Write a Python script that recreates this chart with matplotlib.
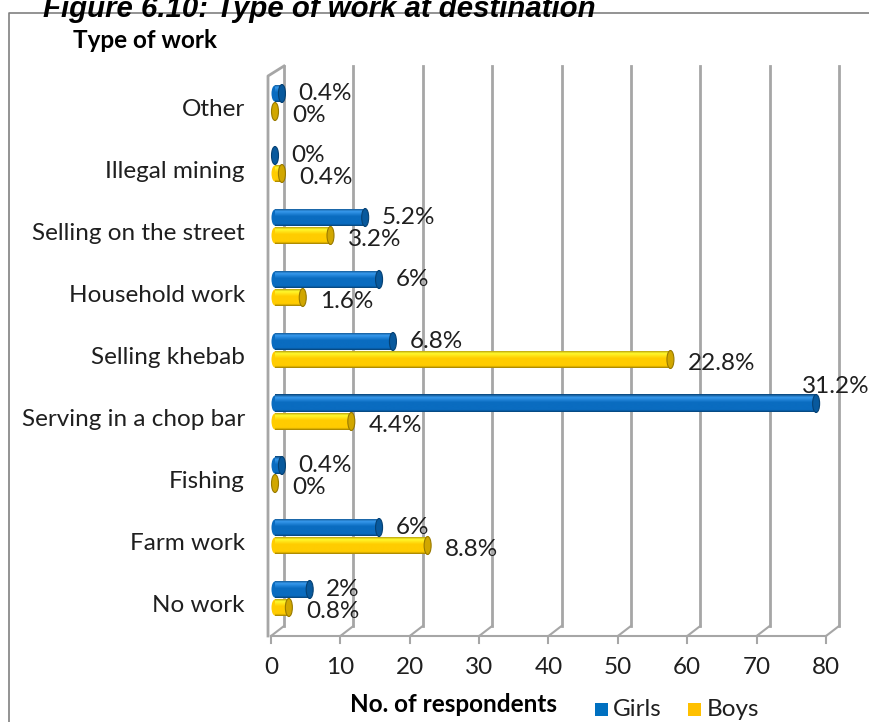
import matplotlib.pyplot as plt
import numpy as np
from matplotlib.patches import Ellipse, Rectangle
from matplotlib.colors import LinearSegmentedColormap, to_rgb

# respondents per type of work (250 children in total)
categories = ['Other', 'Illegal mining', 'Selling on the street', 'Household work',
              'Selling khebab', 'Serving in a chop bar', 'Fishing', 'Farm work', 'No work']
girls = [1, 0, 13, 15, 17, 78, 1, 15, 5]
boys = [0, 1, 8, 4, 57, 11, 0, 22, 2]
total = 250
xticks = [0, 10, 20, 30, 40, 50, 60, 70, 80]

plt.rcParams['font.family'] = ['Lato', 'DejaVu Sans']

W, H = 869, 722
fig = plt.figure(figsize=(W / 100, H / 100), dpi=100)
ax = fig.add_axes([0, 0, 1, 1])
ax.axis('off')

# pixel <-> data helpers (x: respondents, y: category index)
sx = (826 - 271) / 80.0
sy = 62.0
def px(p):
    return (p - 271) / sx
def py(p):
    return (p - 102.5) / sy
def dx(p):
    return p / sx
def dy(p):
    return p / sy

fs = 17.5
txt_c = '#1f1f1f'
grid_c = '#a6a6a6'
depth_x = dx(13)
floor_front, floor_back = py(636), py(626)
wall_top = py(66)

# back wall gridlines and floor
for v in xticks:
    ax.plot([v + depth_x, v + depth_x], [floor_back, wall_top], color=grid_c, lw=2, zorder=1)
    ax.plot([v, v + depth_x], [floor_front, floor_back], color=grid_c, lw=1.5, zorder=1)
    ax.plot([v, v], [floor_front, py(643)], color=grid_c, lw=1.5, zorder=1)
    ax.text(v, py(668), str(v), ha='center', va='center', fontsize=fs, color=txt_c)
ax.plot([0, 80], [floor_front, floor_front], color=grid_c, lw=1.5, zorder=1)
# left wall
ax.plot([px(268), px(268), depth_x], [floor_front, py(76), wall_top], color=grid_c, lw=2, zorder=1)

def shade(c):
    r, g, b = to_rgb(c)
    base = (r, g, b)
    light = tuple(min(1, x + 0.18) for x in base)
    dark = tuple(x * 0.62 for x in base)
    return LinearSegmentedColormap.from_list(
        'cyl', [(0, dark), (0.12, base), (0.55, base), (0.82, light), (1, dark)])

bar_h = dy(18)
bar_x0 = dx(4)
cap_w = dx(7)
grad = np.linspace(0, 1, 64).reshape(-1, 1)

def cylinder(v, yc, color):
    cmap = shade(color)
    r, g, b = to_rgb(color)
    if v > 0:
        # rounded start, then shaded body
        ax.add_patch(Ellipse((bar_x0, yc), cap_w, bar_h * 0.9, facecolor=color,
                             edgecolor='none', zorder=2))
        rect = Rectangle((bar_x0, yc - bar_h / 2), v, bar_h, facecolor='none', edgecolor='none')
        ax.add_patch(rect)
        im = ax.imshow(grad[::-1], cmap=cmap, aspect='auto', interpolation='bilinear',
                       extent=(bar_x0, bar_x0 + v, yc + bar_h / 2, yc - bar_h / 2), zorder=2)
        im.set_clip_path(rect)
    ax.add_patch(Ellipse((bar_x0 + v, yc), cap_w, bar_h, facecolor=(r * 0.82, g * 0.82, b * 0.82),
                         edgecolor=(r * 0.6, g * 0.6, b * 0.6), lw=0.8, zorder=3))

blue, gold = '#0a6cc0', '#ffcc00'
for i, cat in enumerate(categories):
    yg, yb = i - dy(9), i + dy(9)
    cylinder(girls[i], yg, blue)
    cylinder(boys[i], yb, gold)
    ax.text(px(245), i + dy(7), cat, ha='right', va='center', fontsize=fs, color=txt_c)

    g_end = bar_x0 + girls[i] + cap_w / 2
    g_txt = f'{girls[i] / total * 100:g}%'
    if girls[i] > 70:
        ax.text(g_end - dx(18), yg - dy(17), g_txt, ha='left', va='center', fontsize=fs, color=txt_c)
    else:
        ax.text(g_end + dx(13), yg, g_txt, ha='left', va='center', fontsize=fs, color=txt_c)
    b_end = bar_x0 + boys[i] + cap_w / 2
    ax.text(b_end + dx(14), yb + dy(4), f'{boys[i] / total * 100:g}%', ha='left', va='center',
            fontsize=fs, color=txt_c)

# axis titles
ax.text(px(350), py(704), 'No. of respondents', ha='left', va='center', fontsize=fs, fontweight='bold')
ax.text(px(73), py(40), 'Type of work', ha='left', va='center', fontsize=fs, fontweight='bold')

# legend
ax.add_patch(Rectangle((px(595), py(716)), dx(13), -dy(13), facecolor='#0070c0', edgecolor='none'))
ax.text(px(613), py(709), 'Girls', ha='left', va='center', fontsize=fs, color=txt_c)
ax.add_patch(Rectangle((px(688), py(716)), dx(13), -dy(13), facecolor='#ffc000', edgecolor='none'))
ax.text(px(707), py(709), 'Boys', ha='left', va='center', fontsize=fs, color=txt_c)

# outer frame and figure caption
ax.plot([px(9), px(9), px(869)], [py(722), py(13), py(13)], color='#808080', lw=1.2, zorder=1)
ax.text(px(43), py(17), 'Figure 6.10: Type of work at destination', ha='left', va='baseline',
        fontsize=21.2, fontweight='bold', fontstyle='italic', family='Liberation Sans', zorder=5)

ax.set_xlim(px(0), px(W))
ax.set_ylim(py(H), py(0))

fig.savefig('out.png', dpi=100)
